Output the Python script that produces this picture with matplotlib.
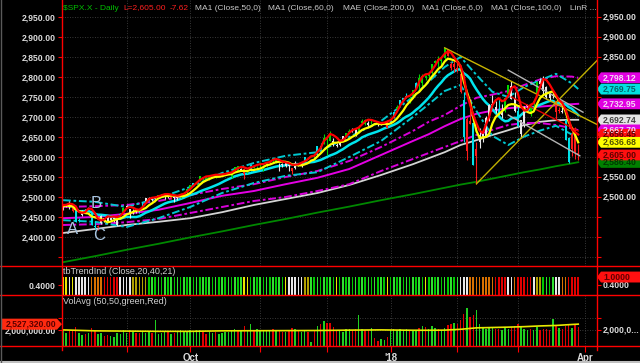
import numpy as np
import pandas as pd
import matplotlib
matplotlib.use("Agg")
import matplotlib.pyplot as plt
import matplotlib.transforms as mtrans
from matplotlib.patches import Polygon
from matplotlib.lines import Line2D

plt.rcParams['font.family'] = ['Liberation Sans', 'DejaVu Sans']

# -------------------------------
# daily bars, 4 Aug 2017 .. 28 Mar 2018 (one row per month)
# -------------------------------
opens = [
    2476, 2478, 2479, 2466, 2465, 2441, 2454, 2466, 2468, 2462, 2427, 2425, 2434, 2447, 2447, 2447, 2447, 2431, 2447, 2463,
    2475, 2470, 2463, 2467, 2462, 2474, 2491, 2494, 2493, 2495, 2502, 2506, 2507, 2504, 2498, 2499, 2501, 2500, 2504, 2509,
    2521, 2530, 2534, 2540, 2547, 2551, 2546, 2550, 2554, 2554, 2556, 2556, 2557, 2553, 2567, 2578, 2568, 2569, 2560, 2568, 2578, 2574,
    2583, 2579, 2581, 2587, 2592, 2588, 2585, 2580, 2577, 2578, 2572, 2572, 2582, 2578, 2589, 2598, 2600, 2603, 2606, 2627, 2633,
    2645, 2657, 2639, 2627, 2630, 2646, 2653, 2662, 2667, 2668, 2660, 2685, 2692, 2686, 2683, 2684, 2679, 2683, 2686, 2690,
    2684, 2697, 2720, 2731, 2743, 2751, 2745, 2752, 2771, 2798, 2784, 2802, 2802, 2810, 2836, 2845, 2847, 2848, 2867, 2832, 2832,
    2817, 2808, 2742, 2614, 2690, 2685, 2602, 2637, 2647, 2652, 2693, 2731, 2724, 2720, 2711, 2715, 2757, 2778, 2745,
    2715, 2658, 2681, 2730, 2711, 2732, 2753, 2790, 2792, 2774, 2760, 2754, 2741, 2715, 2715, 2692, 2647, 2619, 2667, 2611,
]
highs = [
    2480, 2481, 2490, 2475, 2465, 2448, 2468, 2471, 2474, 2466, 2440, 2430, 2454, 2448, 2453, 2451, 2449, 2449, 2460, 2475,
    2480, 2471, 2469, 2468, 2467, 2488, 2497, 2499, 2498, 2500, 2506, 2507, 2508, 2507, 2503, 2503, 2503, 2511, 2510, 2520,
    2530, 2535, 2540, 2552, 2549.5, 2552, 2555, 2555, 2557, 2555, 2558, 2559.7, 2562, 2562, 2575.5, 2578, 2572, 2572, 2568, 2582, 2580, 2578,
    2588, 2581, 2588, 2593, 2597, 2595, 2586, 2585, 2589, 2580, 2572, 2590, 2583, 2584, 2600, 2600, 2605, 2605, 2627.7, 2634, 2657.7,
    2650.6, 2665, 2648, 2634, 2640, 2651.6, 2660, 2669.7, 2671.9, 2669, 2679.6, 2695, 2694, 2691, 2692.6, 2686, 2682.7, 2685.6, 2688.6, 2692,
    2695.9, 2714, 2729, 2743.5, 2748.5, 2759, 2750.8, 2767.6, 2787.9, 2807.5, 2807, 2805.8, 2810.3, 2833, 2842.2, 2852.9, 2848.6, 2872.9, 2870.6, 2837.8, 2839.3,
    2835.9, 2808.9, 2763.4, 2701, 2727.7, 2685.3, 2638.7, 2672.6, 2668.8, 2702.1, 2731.5, 2754.4, 2739.1, 2747.8, 2731.3, 2747.8, 2780, 2789.2, 2761.5,
    2728.1, 2692, 2728.1, 2732.1, 2731, 2740.5, 2786.6, 2797, 2802, 2778, 2764, 2761, 2741, 2724.2, 2739, 2695, 2650, 2661.4, 2674.8, 2632.7,
]
lows = [
    2467, 2475, 2470, 2462, 2437, 2437, 2453, 2460, 2465, 2430, 2421, 2417, 2432, 2437, 2437, 2441, 2437, 2428, 2446, 2462,
    2473, 2447, 2458, 2460, 2459, 2474, 2488, 2492, 2491, 2493, 2500, 2502, 2496, 2497, 2496, 2488, 2492, 2497, 2502, 2507,
    2520, 2528, 2532, 2540, 2540, 2544, 2543, 2547, 2548, 2551, 2554, 2554, 2557, 2548, 2567, 2564, 2567, 2544, 2559, 2566, 2572, 2572,
    2576, 2566, 2576, 2583, 2586, 2585, 2566, 2575, 2574, 2566, 2557, 2571, 2577, 2576, 2587, 2595, 2599, 2598, 2603, 2620, 2633,
    2605.5, 2639, 2627, 2624, 2628, 2644, 2653, 2659, 2662, 2652, 2659, 2685, 2680, 2676, 2682, 2680, 2677, 2678.9, 2682, 2673,
    2682, 2697, 2719, 2728, 2737, 2747, 2736, 2752, 2769, 2768, 2778, 2792, 2798, 2808, 2830.6, 2824.8, 2830.9, 2846, 2851.5, 2818.3, 2813,
    2812.7, 2759.9, 2638.2, 2593, 2681.3, 2580.6, 2532.7, 2622.5, 2637.1, 2648.9, 2689.8, 2725.1, 2709.5, 2701.3, 2697.8, 2713.7, 2753.8, 2744.2, 2713.5,
    2675.8, 2647.3, 2675.8, 2711.3, 2701.7, 2722.7, 2751.5, 2780, 2758, 2744, 2741, 2748, 2694.6, 2710, 2709.8, 2641.6, 2585.9, 2601.8, 2596.1, 2593.1,
]
closes = [
    2476.83, 2480.91, 2474.92, 2474.02, 2438.21, 2441.32, 2465.84, 2464.61, 2468.11, 2430.01, 2425.55, 2428.37, 2452.51, 2444.04, 2438.97, 2443.05, 2444.24, 2446.30, 2457.59, 2471.65,
    2476.55, 2457.85, 2465.54, 2465.10, 2461.43, 2488.11, 2496.48, 2498.37, 2495.62, 2500.23, 2503.87, 2506.65, 2508.24, 2500.60, 2502.22, 2496.66, 2496.84, 2507.04, 2510.06, 2519.36,
    2529.12, 2534.58, 2537.74, 2552.07, 2549.33, 2544.73, 2550.64, 2555.24, 2550.93, 2553.17, 2557.64, 2559.36, 2561.26, 2562.10, 2575.21, 2564.98, 2569.13, 2557.15, 2560.40, 2581.07, 2572.83, 2575.26,
    2579.36, 2579.85, 2587.84, 2591.13, 2590.64, 2594.38, 2584.62, 2582.30, 2584.84, 2578.87, 2564.62, 2585.64, 2578.85, 2582.14, 2599.03, 2597.08, 2602.42, 2601.42, 2627.04, 2626.07, 2647.58,
    2642.22, 2639.44, 2629.57, 2629.27, 2636.98, 2651.50, 2659.99, 2664.11, 2662.85, 2652.01, 2675.81, 2690.16, 2681.47, 2679.25, 2684.57, 2683.34, 2680.50, 2682.62, 2687.54, 2673.61,
    2695.81, 2713.06, 2723.99, 2743.15, 2747.71, 2751.29, 2748.23, 2767.56, 2786.24, 2776.42, 2802.56, 2798.03, 2810.30, 2832.97, 2839.13, 2837.54, 2839.25, 2872.87, 2853.53, 2822.43, 2823.81,
    2821.98, 2762.13, 2648.94, 2695.14, 2681.66, 2581.00, 2619.55, 2656.00, 2662.94, 2698.63, 2731.20, 2732.22, 2716.26, 2701.33, 2703.96, 2747.30, 2779.60, 2744.28, 2713.83,
    2677.67, 2691.25, 2720.94, 2728.12, 2726.80, 2738.97, 2786.57, 2783.02, 2765.31, 2749.48, 2747.33, 2752.01, 2712.92, 2716.94, 2711.93, 2643.69, 2588.26, 2658.55, 2612.62, 2605.00,
]
# candle paint: c=cyan g=green r=red w=white
candle_codes = ("wwwrccwwcccrwwwwwwcg" "wwwwccwwwwggwwrwwggg" "gcggggggggggggggwrgcgg"
                "ggggggwwwwrwwwcgggccg" "ggwwwwggwwgggwggwwwr" "ccgcccggcgggggggggrrr"
                "rrcrrcrwwwwwwcwggww" "cwwwgggwwwwwrrwccrrr")

# volume, millions
volume = [
    2.10, 1.75, 1.95, 2.05, 2.25, 1.80, 1.60, 1.70, 1.75, 2.20, 2.00, 1.70, 1.75, 1.55, 1.65, 1.50, 1.45, 1.80, 1.70, 2.05,
    1.80, 2.05, 1.90, 1.75, 1.80, 1.95, 1.80, 1.90, 1.75, 2.85, 1.70, 1.80, 1.95, 1.85, 1.70, 1.80, 1.95, 2.00, 1.85, 1.95,
    2.00, 1.90, 2.00, 2.05, 1.85, 1.70, 1.85, 1.80, 1.90, 1.70, 1.80, 1.85, 1.90, 2.00, 2.15, 1.95, 2.00, 2.40, 2.05, 2.55, 1.95, 2.10,
    2.05, 2.00, 1.95, 2.05, 2.10, 1.95, 2.00, 1.90, 1.85, 1.95, 2.20, 2.10, 1.95, 1.90, 1.95, 1.85, 1.00, 2.00, 2.35, 2.50, 2.80,
    2.65, 2.60, 2.25, 2.05, 2.00, 1.90, 2.10, 2.15, 2.00, 2.10, 3.30, 2.10, 2.00, 2.05, 2.20, 1.40, 1.15, 1.25, 1.20, 1.45,
    2.00, 2.15, 2.05, 2.10, 2.05, 2.15, 2.05, 2.00, 1.95, 2.20, 2.35, 2.25, 2.10, 2.40, 2.20, 2.10, 2.00, 2.20, 2.45, 2.50, 2.60,
    2.55, 2.90, 3.40, 3.90, 3.10, 3.25, 3.70, 2.50, 2.20, 2.15, 2.30, 2.25, 2.15, 2.10, 2.05, 2.20, 2.10, 2.30, 2.35,
    2.55, 2.30, 2.10, 2.00, 2.15, 2.05, 2.25, 2.05, 2.10, 2.15, 2.00, 2.95, 2.35, 2.20, 2.10, 2.35, 2.50, 2.20, 2.45, 2.30,
]
# tbTrendInd paint: y=yellow w=white o=orange r=red l=olive g=green
trend_codes = ("yywywwwwwoooorrrrrww" "wwlllllggggggggggggg" "gggggggggggggggggyyggg"
               "ggggggggywwwwwllggggg" "gggy" "ggggggggggggggg" "y" "gggggggggggyggggggggg"
               "gwwwoooooooorrrrwwo" "rrrrrwllggggwwoorrrr")

# slow lines at these bar numbers
ma_idx = [0, 10, 20, 30, 40, 50, 60, 70, 80, 90, 100, 110, 115, 120, 125, 130, 135, 140, 145, 150, 155, 160, 162]
ma50 = [2447, 2450, 2458, 2468, 2485, 2503, 2515, 2532, 2548, 2570, 2605, 2640, 2657, 2677, 2695, 2708, 2716, 2722, 2725, 2726, 2729, 2732, 2733]
ma50_up = [2475, 2477, 2480, 2490, 2505, 2520, 2532, 2550, 2565, 2590, 2625, 2665, 2688, 2705, 2728, 2748, 2756, 2765, 2780, 2794, 2802, 2801, 2798]
ma50_lo = [2430, 2432, 2437, 2445, 2460, 2475, 2490, 2500, 2515, 2532, 2565, 2595, 2610, 2625, 2640, 2655, 2668, 2680, 2685, 2685, 2680, 2672, 2667]
cy_up = [2492, 2488, 2475, 2497, 2525, 2560, 2585, 2603, 2612, 2650, 2690, 2750, 2788, 2825, 2850, 2805, 2763, 2750, 2775, 2792, 2808, 2784, 2770]
cy_lo = [2442, 2438, 2425, 2447, 2475, 2510, 2535, 2553, 2562, 2600, 2640, 2700, 2732, 2765, 2780, 2715, 2653, 2630, 2651, 2666, 2678, 2656, 2641]
ma100 = [2410, 2420, 2430, 2438, 2447, 2462, 2480, 2495, 2510, 2530, 2555, 2582, 2597, 2612, 2630, 2642, 2655, 2667, 2680, 2688, 2692, 2693, 2693]
ma200 = [2337, 2352, 2368, 2383, 2399, 2414, 2430, 2445, 2461, 2476, 2492, 2507, 2515, 2523, 2531, 2538, 2546, 2554, 2562, 2569, 2577, 2584, 2587]
vol_avg = [2.05, 1.97, 1.95, 1.93, 1.93, 1.97, 1.98, 1.99, 2.00, 2.03, 2.05, 2.02, 2.02, 2.03, 2.10, 2.22, 2.25, 2.28, 2.32, 2.38, 2.42, 2.50, 2.53]

# drawn trendlines (bar, price)
tl_x = [[120, 168], [130, 168], [140, 163.5], [140, 162.5], [141, 162]]
tl_y = [[2873, 2681], [2533, 2842], [2817, 2712], [2705, 2603], [2750, 2665]]
tl_c = ['#c8b400', '#c0b000', '#b4b4b4', '#b4b4b4', '#e00000']

abc_text = ['A', 'B', 'C']
abc_x = [3.1, 10.4, 11.3]
abc_y = [2420, 2483, 2403]

month_pos = [20, 40, 62, 83, 103, 124, 143, 164]
month_lab = ['', 'Oct', '', '', "'18", '', '', 'Apr']

tag_vals = [2798.12, 2769.75, 2732.95, 2692.74, 2667.70, 2656.45, 2636.68, 2586.40, 2605.00]
tag_face = ['#e000e0', '#00e0e0', '#e000e0', '#e4e4e4', '#e000e0', '#ff1010', '#ffff00', '#008000', '#ff1010']
tag_txt = ['#f4d8f4', '#006464', '#f4d8f4', '#404040', '#f4d8f4', '#600000', '#505000', '#003800', '#600000']

# -------------------------------
# figure / panels
# -------------------------------
W, H = 640, 363
L, R = 62, 597
fig = plt.figure(figsize=(W / 100, H / 100), dpi=100, facecolor='black')


def fx(px):
    return px / W


def fy(py):
    return 1 - py / H


ax_p = fig.add_axes([fx(L), fy(266), (R - L) / W, 266 / H])
ax_i = fig.add_axes([fx(L), fy(295), (R - L) / W, 29 / H])
ax_v = fig.add_axes([fx(L), fy(346), (R - L) / W, 51 / H])

for ax in (ax_p, ax_i, ax_v):
    ax.set_facecolor('black')
    for s in ax.spines.values():
        s.set_visible(False)
    ax.set_xticks(month_pos)
    ax.tick_params(axis='x', bottom=False, labelbottom=False)
    ax.tick_params(axis='y', left=True, right=True, colors='#ff0000', labelcolor='#dcdcdc',
                   length=3, width=0.8, labelsize=6.2, pad=1.5)

n = len(closes)
x = np.arange(n)
o = np.array(opens, float)
h = np.array(highs, float)
l = np.array(lows, float)
c = np.array(closes, float)

# moving averages that follow price
ma6 = pd.Series(c).rolling(6, min_periods=1).mean()
ma15 = pd.Series(c).rolling(15, min_periods=1).mean()
hi3 = pd.Series(h).rolling(3, min_periods=1).mean()

dashdot = (0, (4, 1.4, 1.4, 1.4))
ax_p.plot(ma_idx, ma200, color='#008800', lw=1.3, zorder=2)
ax_p.plot(ma_idx, ma100, color='#d4d4d4', lw=1.3, zorder=2)
ax_p.plot(ma_idx, ma50_lo, color='#d800d8', lw=1.4, ls=dashdot, zorder=2)
ax_p.plot(ma_idx, ma50_up, color='#d800d8', lw=1.4, ls=dashdot, zorder=2)
ax_p.plot(ma_idx, ma50, color='#e400e4', lw=1.4, zorder=2)
ax_p.plot(ma_idx, cy_lo, color='#00c8d0', lw=1.4, ls=dashdot, zorder=2)
ax_p.plot(ma_idx, cy_up, color='#00c8d0', lw=1.4, ls=dashdot, zorder=2)
ax_p.plot(x, ma15, color='#00e5ee', lw=1.8, zorder=3)

# candles
cpal = {'c': '#00e0e8', 'g': '#00d800', 'r': '#ff1a1a', 'w': '#e8e8e8'}
ccol = [cpal[k] for k in candle_codes]
ax_p.vlines(x, l, h, colors=ccol, lw=0.8, zorder=4)
ax_p.bar(x, np.maximum(np.abs(c - o), 1.2), bottom=np.minimum(o, c), width=0.62,
         color=ccol, linewidth=0, zorder=4)

for xs, ys, col in zip(tl_x, tl_y, tl_c):
    ax_p.plot(xs, ys, color=col, lw=1.0, zorder=5)

ax_p.plot(x, ma6, color='#ffff00', lw=1.6, zorder=6)
ax_p.plot(x, hi3, color='#ff0000', lw=1.6, zorder=6)

for t, xa, ya in zip(abc_text, abc_x, abc_y):
    ax_p.text(xa, ya, t, color='#a8c4e0', fontsize=12, ha='center', va='center', zorder=7)

# price scale
price_ticks = np.arange(2350, 2951, 50)
ax_p.set_yticks(price_ticks)
ax_p.set_yticklabels(['' if v == 2350 else f'{v:,.2f}' for v in price_ticks], fontweight='bold')
ax_p.grid(True, color='#4a4a4a', ls=(0, (1, 2)), lw=0.6)
ax_p.set_axisbelow(True)

tr_p = mtrans.blended_transform_factory(ax_p.transAxes, ax_p.transData)
for v in [2500, 2550, 2850, 2900, 2950]:
    ax_p.text(1 + 6 / 535, v, f'{v:,.2f}', transform=tr_p, color='#dcdcdc', fontsize=6.2,
              fontweight='bold', va='center', ha='left', clip_on=False)


def tag(ax, v, text, face, tcol, hh, side='right'):
    tr = mtrans.blended_transform_factory(ax.transAxes, ax.transData)
    if side == 'right':
        a, b, e = 1.0, 1 + 4 / 535, 1 + 43 / 535
        tx, ha = 1 + 6 / 535, 'left'
    else:
        a, b, e = 0.0, -5 / 535, -60 / 535
        tx, ha = -31 / 535, 'center'
    pts = [(a, v), (b, v + hh), (e, v + hh), (e, v - hh), (b, v - hh)]
    ax.add_patch(Polygon(pts, closed=True, transform=tr, facecolor=face, edgecolor='none',
                         clip_on=False, zorder=10))
    ax.text(tx, v, text, transform=tr, ha=ha, va='center', color=tcol, fontsize=6.2,
            fontweight='bold', clip_on=False, zorder=11)


for v, fc, tc in zip(tag_vals, tag_face, tag_txt):
    tag(ax_p, v, f'{v:,.2f}', fc, tc, 13.5)

# tbTrendInd panel
tpal = {'y': '#e8e800', 'w': '#e8e8e8', 'o': '#d87000', 'r': '#e00000', 'l': '#b0a000', 'g': '#00c800'}
tcol = [('#30e030' if (k == 'g' and i % 2 == 0) else tpal[k]) for i, k in enumerate(trend_codes)]
ax_i.bar(x, 1.35, bottom=-0.35, width=0.5, color=tcol, linewidth=0)
ax_i.set_yticks([0.4])
ax_i.set_yticklabels(['0.4000'], fontweight='bold')
tr_i = mtrans.blended_transform_factory(ax_i.transAxes, ax_i.transData)
ax_i.text(1 + 6 / 535, 0.4, '0.4000', transform=tr_i, color='#dcdcdc', fontsize=6.2,
          fontweight='bold', va='center', ha='left', clip_on=False)
tag(ax_i, 1.0, '1.0000', '#ff1010', '#600000', 0.41)

# volume panel
prev = np.r_[o[0], c[:-1]]
vcol = np.where(c >= prev, '#20d020', '#e00000')
ax_v.bar(x, volume, width=0.45, color=vcol, linewidth=0)
ax_v.plot(ma_idx, vol_avg, color='#e8e800', lw=1.2)
ax_v.set_yticks([2.0, 3.0])
ax_v.set_yticklabels(['2,000,000.00', ''], fontweight='bold')
ax_v.grid(True, color='#4a4a4a', ls=(0, (1, 2)), lw=0.6)
ax_v.set_axisbelow(True)
tr_v = mtrans.blended_transform_factory(ax_v.transAxes, ax_v.transData)
ax_v.text(1 + 6 / 535, 2.0, '2,000,0...', transform=tr_v, color='#dcdcdc', fontsize=6.2,
          fontweight='bold', va='center', ha='left', clip_on=False)
tag(ax_v, 2.527, '2,527,320.00', '#ff2a10', '#5a0000', 0.46, side='left')

ax_v.tick_params(axis='x', bottom=True, labelbottom=True, colors='#ff0000', labelcolor='#dcdcdc',
                 length=4, width=0.8, labelsize=7, pad=1)
ax_v.set_xticklabels(month_lab, fontweight='bold')

for ax in (ax_p, ax_i, ax_v):
    ax.set_xlim(-0.31, 167.9)
ax_p.set_ylim(2327.5, 2992.5)
ax_i.set_ylim(-0.35, 1.83)
ax_v.set_ylim(0.708, 4.958)

# header texts
header = [(r'\$SPX.X - Daily', 63, '#00c000'), ('L=2,605.00', 123, '#ff2020'), ('-7.62', 170, '#ff2020'),
          ('MA1 (Close,50,0)', 195, '#c8c8c8'), ('MA1 (Close,60,0)', 268, '#c8c8c8'),
          ('MAE (Close,200,0)', 343, '#c8c8c8'), ('MA1 (Close,6,0)', 422, '#c8c8c8'),
          ('MA1 (Close,100,0)', 491, '#c8c8c8'), ('LinR ...', 570, '#c8c8c8')]
for s, px, col in header:
    fig.text(fx(px), fy(8), s, color=col, fontsize=6, va='center', ha='left')
fig.text(fx(63), fy(271.5), 'tbTrendInd (Close,20,40,21)', color='#d0d0d0', fontsize=6.5, va='center')
fig.text(fx(63), fy(302), 'VolAvg (50,50,green,Red)', color='#d0d0d0', fontsize=6.5, va='center')

# panel frame lines
for py in (266, 295, 346):
    fig.add_artist(Line2D([0, 1], [fy(py), fy(py)], color='#ff0000', lw=1.0, transform=fig.transFigure))
for px in (L, R):
    fig.add_artist(Line2D([fx(px), fx(px)], [fy(350), 1], color='#ff0000', lw=1.0, transform=fig.transFigure))
fig.add_artist(Line2D([0, 1], [fy(362), fy(362)], color='#c0c0c0', lw=1.5, transform=fig.transFigure))
fig.add_artist(Line2D([fx(0.5), fx(0.5)], [0, 1], color='#5a5a5a', lw=1.0, transform=fig.transFigure))

fig.savefig('out.png', dpi=100, facecolor='black')
